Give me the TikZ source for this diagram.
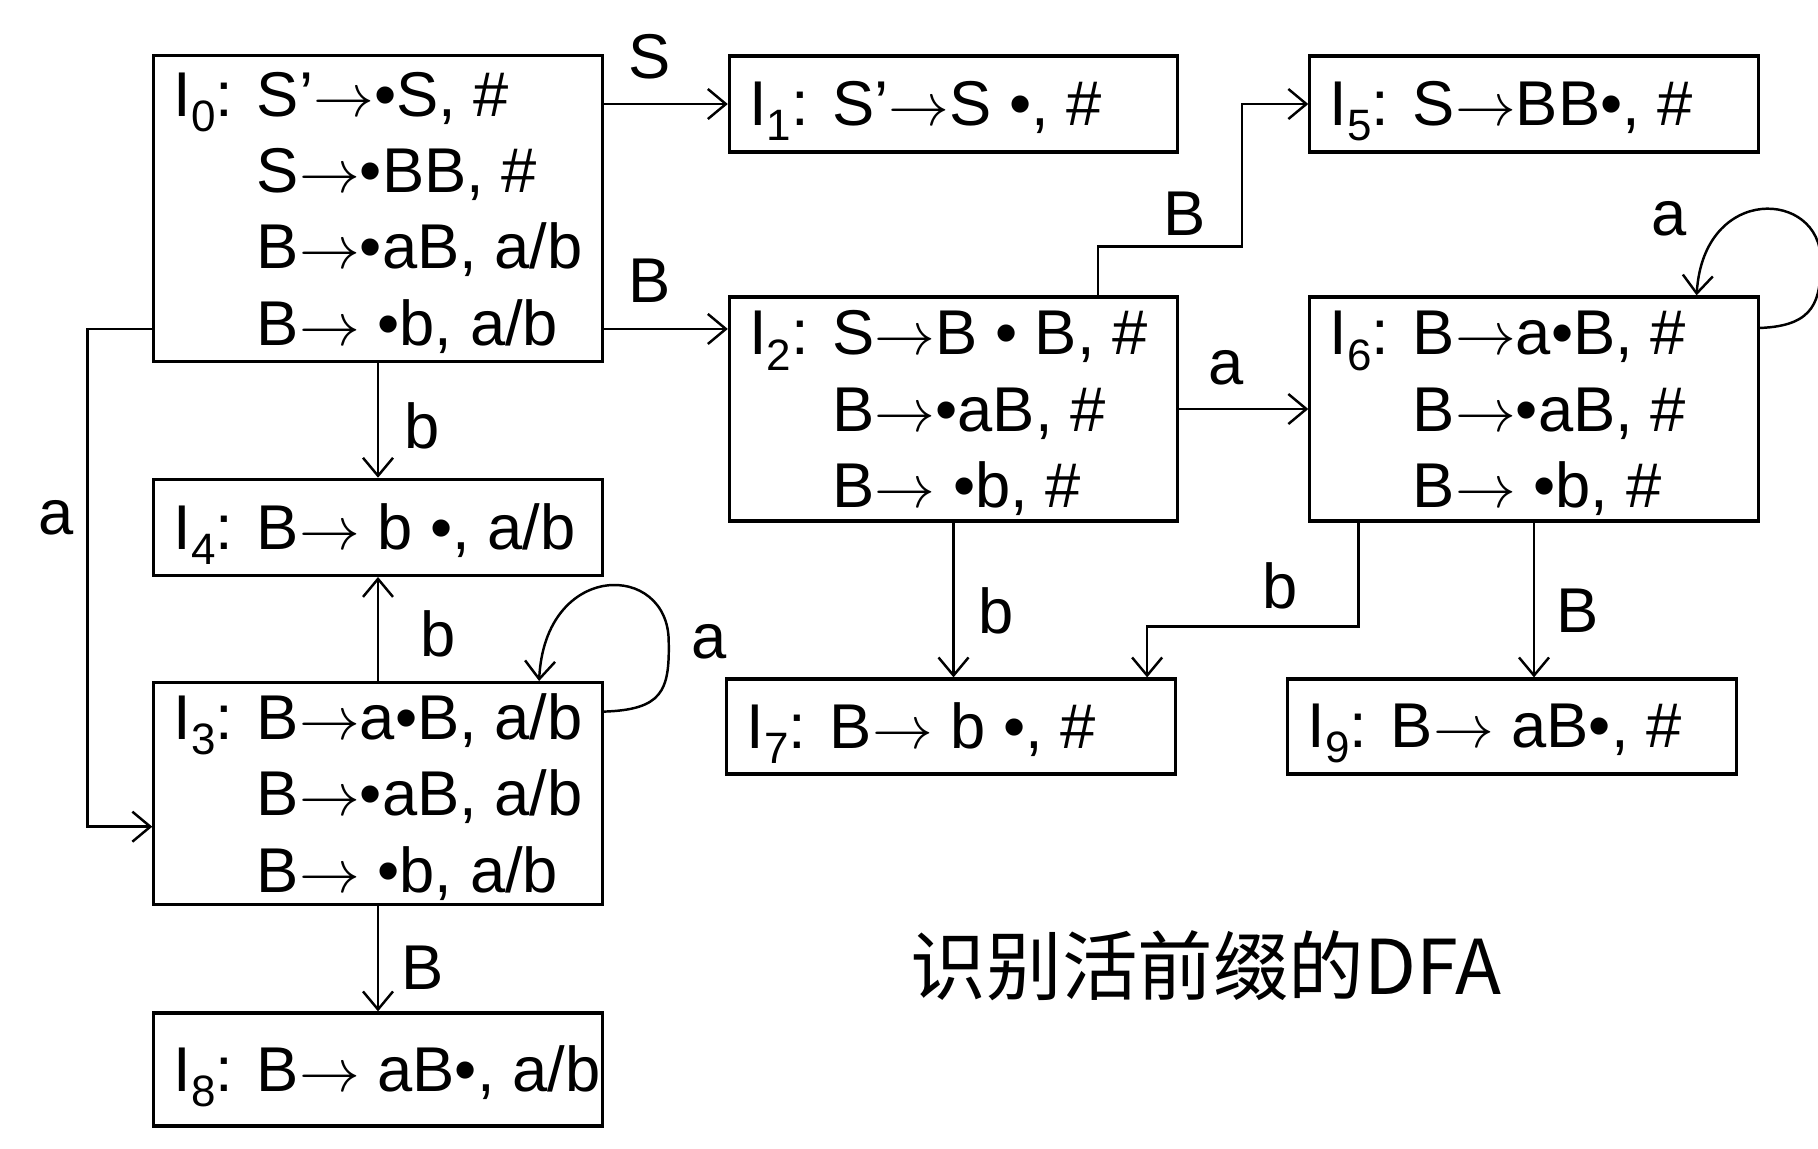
\documentclass[tikz,border=0pt]{standalone}
\usepackage{fontspec}
\setmainfont{Liberation Sans}
\newfontfamily\cjk{Noto Sans CJK SC}
\usetikzlibrary{arrows.meta, positioning}
\newcommand{\Iset}[1]{I\raisebox{-0.45ex}{\fontsize{12.5}{12.5}\selectfont #1}:}
\newcommand{\arw}{\ensuremath{\rightarrow}}
\newcommand{\boxtext}[1]{\raisebox{-0.07cm}[\height][\depth]{\makebox[4.08cm][l]{#1}}}

\begin{document}
\begin{tikzpicture}[
  x=0.01cm, y=-0.01cm,
  font=\fontsize{18}{21.7}\selectfont,
  arr/.style={-{Straight Barb[length=1.8mm, width=3mm]}, line width=0.7pt},
  itemset/.style={draw, line width=0.9pt, minimum width=4.48cm,
                  inner xsep=0.2cm, inner ysep=-0.2cm},
  lbl/.style={inner sep=0pt},
]
\useasboundingbox (0,0) rectangle (1818,1148);

% --- Left column ---
\node[itemset, minimum height=3.05cm] (I0) at (378,208.5)
  {\boxtext{\begin{tabular}{@{}l@{ }l@{}}\Iset{0} & S’\arw•S, \#\\ & S\arw•BB, \#\\ & B\arw•aB, a/b\\ & B\arw{} •b, a/b\end{tabular}}};
\node[itemset, minimum height=0.96cm, below=1.15cm of I0] (I4) {\boxtext{\Iset{4} B\arw{} b •, a/b}};
\node[itemset, minimum height=2.22cm, below=1.04cm of I4] (I3)
  {\boxtext{\begin{tabular}{@{}l@{ }l@{}}\Iset{3} & B\arw a•B, a/b\\ & B\arw•aB, a/b\\ & B\arw{} •b, a/b\end{tabular}}};
\node[itemset, minimum height=1.13cm, below=1.05cm of I3] (I8) {\boxtext{\Iset{8} B\arw{} aB•, a/b}};

% --- Middle and right ---
\node[itemset, minimum height=0.96cm] (I1) at (953.5,104) {\boxtext{\Iset{1} S’\arw S •, \#}};
\node[itemset, minimum height=2.24cm] (I2) at (953.5,409)
  {\boxtext{\begin{tabular}{@{}l@{ }l@{}}\Iset{2} & S\arw B • B, \#\\ & B\arw•aB, \#\\ & B\arw{} •b, \#\end{tabular}}};
\node[itemset, minimum height=0.96cm, right=1.29cm of I1] (I5) {\boxtext{\Iset{5} S\arw BB•, \#}};
\node[itemset, minimum height=2.24cm, right=1.29cm of I2] (I6)
  {\boxtext{\begin{tabular}{@{}l@{ }l@{}}\Iset{6} & B\arw a•B, \#\\ & B\arw•aB, \#\\ & B\arw{} •b, \#\end{tabular}}};
\node[itemset, minimum height=0.95cm] (I7) at (951,726.5) {\boxtext{\Iset{7} B\arw{} b •, \#}};
\node[itemset, minimum height=0.95cm] (I9) at (1512,726.5) {\boxtext{\Iset{9} B\arw{} aB•, \#}};

\node[font=\cjk\fontsize{21.5}{26}\selectfont] (title) at (1206,966) {识别活前缀的DFA};

% --- Transitions out of I0 ---
\coordinate (bIn) at ([yshift=0.8cm]I2.west);
\coordinate (aIn) at ([yshift=-0.33cm]I3.west);
\draw[arr] (I0.east |- I1.west) -- node[lbl, above=0.24cm, pos=0.37] {S} (I1.west);
\draw[arr] (I0.east |- bIn) -- node[lbl, above=0.25cm, pos=0.37] {B} (bIn);
\draw[arr] (I0.south) -- node[lbl, right=0.25cm, pos=0.55] {b} (I4.north);
\draw[arr] (I0.west |- bIn) -- ++(-65,0) |- node[lbl, left=0.12cm, pos=0.19] {a} (aIn);

% --- I3 ---
\draw[arr] (I3.north) -- node[lbl, right=0.41cm, pos=0.45] {b} (I4.south);
\draw[arr] (I3.south) -- node[lbl, right=0.22cm, pos=0.58] {B} (I8.north);
\draw[arr] ([yshift=0.82cm]I3.east) .. controls +(58,-2) and +(1,50) .. ++(65,-70)
  node[lbl, right=0.22cm] {a}
  .. controls +(0,-80) and +(6,-121) .. ([xshift=1.61cm]I3.north);

% --- I2 ---
\draw[arr] ([xshift=1.445cm]I2.north) -- ++(0,-49)
  -- node[lbl, above=0.1cm, pos=0.6] {B} ++(144,0) |- (I5.west);
\draw[arr] (I2.east) -- node[lbl, above=0.23cm, pos=0.36] {a} (I6.west);
\draw[arr] (I2.south) -- node[lbl, right=0.24cm, pos=0.57] {b} (I2.south |- I7.north);

% --- I6 ---
\draw[arr] ([yshift=0.81cm]I6.east) .. controls +(56,-2) and +(0,40) .. ++(61,-68)
  .. controls +(0,-70) and +(7,-112) .. ([xshift=1.625cm]I6.north)
  node[lbl, xshift=-0.27cm, yshift=0.77cm] {a};
\draw[arr] ([xshift=-1.755cm]I6.south) -- ++(0,104)
  -| node[lbl, above=0.16cm, pos=0.185] {b} ([xshift=1.96cm]I7.north);
\draw[arr] (I6.south) -- node[lbl, right=0.21cm, pos=0.57] {B} (I6.south |- I9.north);

\end{tikzpicture}
\end{document}
